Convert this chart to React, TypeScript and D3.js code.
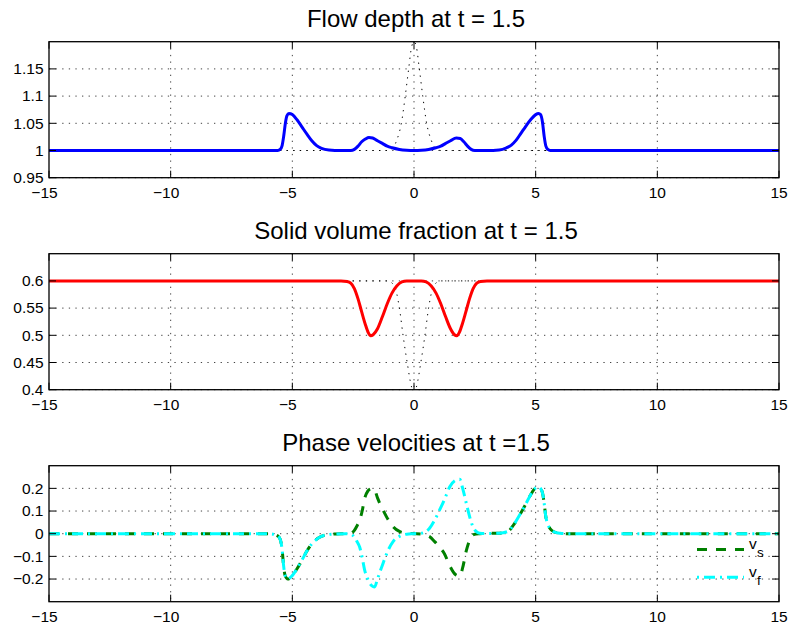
import React from 'react';
import * as d3 from 'd3';

// ---- shared axis settings ----
const X_DOMAIN: [number, number] = [-15, 15];
const X_TICKS = [-15, -10, -5, 0, 5, 10, 15];

// ---- flow depth h(x) at t = 1.5 ----
const depthX = [-15, -6, -5.6, -5.5, -5.42, -5.35, -5.28, -5.22, -5.14, -5.0, -4.8, -4.6, -4.4, -4.2, -4.0, -3.8, -3.5, -3.0,
  -2.6, -2.45, -2.3, -2.15, -2.0, -1.85, -1.7, -1.5, -1.3, -1.1, -0.9, -0.6, -0.3, 0,
  0.3, 0.6, 0.9, 1.1, 1.3, 1.5, 1.74, 1.9, 2.05, 2.2, 2.35, 2.5, 3.0,
  3.5, 3.8, 4.0, 4.2, 4.4, 4.6, 4.8, 5.0, 5.12, 5.2, 5.28, 5.35, 5.42, 5.5, 5.6, 6, 15];
const depthH = [1, 1, 1.0, 1.002, 1.009, 1.028, 1.052, 1.064, 1.068, 1.066, 1.056, 1.043, 1.03, 1.018, 1.009, 1.004, 1.001, 1.0,
  1.0, 1.002, 1.008, 1.016, 1.021, 1.024, 1.023, 1.018, 1.013, 1.008, 1.005, 1.002, 1.0005, 1.0,
  1.0005, 1.002, 1.005, 1.008, 1.013, 1.018, 1.023, 1.022, 1.016, 1.008, 1.002, 1.0, 1.0,
  1.001, 1.005, 1.01, 1.019, 1.032, 1.045, 1.057, 1.066, 1.068, 1.066, 1.052, 1.026, 1.008, 1.002, 1.0, 1, 1];

// initial flow depth (dotted)
const depthInitX = [-15, -1.1, -0.85, -0.7, -0.52, -0.36, -0.22, -0.1, 0, 0.1, 0.22, 0.36, 0.52, 0.7, 0.85, 1.1, 15];
const depthInitH = [1, 1.0, 1.006, 1.02, 1.05, 1.1, 1.15, 1.19, 1.2, 1.19, 1.15, 1.1, 1.05, 1.02, 1.006, 1.0, 1];

// ---- solid volume fraction phi(x) at t = 1.5 ----
const fracX = [-15, -3.0, -2.75, -2.6, -2.45, -2.3, -2.15, -2.0, -1.88, -1.78, -1.68, -1.5, -1.3, -1.1, -0.9, -0.7, -0.5, -0.3, 0,
  0.3, 0.5, 0.7, 0.9, 1.1, 1.3, 1.5, 1.66, 1.76, 1.86, 1.98, 2.13, 2.28, 2.43, 2.58, 2.73, 3.0, 15];
const fracPhi = [0.6, 0.6, 0.599, 0.596, 0.586, 0.567, 0.543, 0.52, 0.505, 0.499, 0.501, 0.512, 0.534, 0.558, 0.578, 0.591, 0.598, 0.6, 0.6,
  0.6, 0.598, 0.591, 0.578, 0.558, 0.534, 0.512, 0.501, 0.499, 0.505, 0.52, 0.543, 0.567, 0.586, 0.596, 0.599, 0.6, 0.6];

// initial volume fraction (dotted)
const fracInitX = [-15, -1.1, -0.82, -0.6, -0.45, -0.28, -0.1, 0, 0.1, 0.28, 0.45, 0.6, 0.82, 1.1, 15];
const fracInitPhi = [0.6, 0.6, 0.592, 0.55, 0.5, 0.45, 0.405, 0.395, 0.405, 0.45, 0.5, 0.55, 0.592, 0.6, 0.6];

// ---- phase velocities at t = 1.5 ----
const velX = [-15, -6, -5.8, -5.6, -5.5, -5.42, -5.36, -5.3, -5.18, -5.05, -4.84, -4.62, -4.42, -4.2, -3.88, -3.6, -3.2, -2.8,
  -2.6, -2.45, -2.35, -2.23, -2.13, -2.03, -1.9, -1.78, -1.69, -1.62, -1.5, -1.38, -1.27, -1.05, -0.86, -0.6, -0.3, 0,
  0.3, 0.64, 0.85, 1.05, 1.25, 1.47, 1.7, 1.88, 2.0, 2.15, 2.3, 2.42, 2.55, 2.7, 2.9,
  3.5, 3.86, 4.1, 4.34, 4.55, 4.75, 4.95, 5.1, 5.2, 5.3, 5.36, 5.41, 5.5, 5.58, 5.75, 6.0, 6.3, 15];
const velSolid = [0, 0, -0.002, -0.01, -0.025, -0.07, -0.14, -0.183, -0.2, -0.19, -0.16, -0.12, -0.08, -0.045, -0.016, -0.005, -0.001, 0,
  0.002, 0.015, 0.033, 0.06, 0.1, 0.155, 0.188, 0.198, 0.2, 0.195, 0.158, 0.128, 0.104, 0.06, 0.031, 0.01, 0.002, 0,
  -0.002, -0.013, -0.035, -0.06, -0.088, -0.142, -0.18, -0.187, -0.15, -0.075, -0.025, -0.006, -0.001, 0, 0.001,
  0.002, 0.01, 0.04, 0.082, 0.122, 0.163, 0.197, 0.207, 0.2, 0.17, 0.125, 0.08, 0.04, 0.024, 0.008, 0.002, 0, 0];
const velFluid = [0, 0, -0.002, -0.01, -0.025, -0.07, -0.14, -0.183, -0.2, -0.19, -0.16, -0.12, -0.08, -0.045, -0.016, -0.005, -0.001, 0,
  -0.002, -0.015, -0.033, -0.06, -0.105, -0.16, -0.2, -0.225, -0.233, -0.235, -0.2, -0.163, -0.13, -0.07, -0.035, -0.012, -0.002, 0,
  0.002, 0.024, 0.06, 0.104, 0.15, 0.207, 0.235, 0.24, 0.2, 0.134, 0.07, 0.031, 0.01, 0.002, 0.001,
  0.002, 0.01, 0.04, 0.082, 0.122, 0.163, 0.197, 0.207, 0.2, 0.17, 0.125, 0.08, 0.04, 0.024, 0.008, 0.002, 0, 0];

// ---- y ticks ----
const depthTicks = [0.95, 1, 1.05, 1.1, 1.15];
const fracTicks = [0.4, 0.45, 0.5, 0.55, 0.6];
const velTicks = [-0.2, -0.1, 0, 0.1, 0.2];

// ---- layout ----
const W = 788;
const HGT = 628;
const LEFT = 49;
const RIGHT = 779;
const PANEL_H = 136;
const FONT = '"Liberation Sans", Arial, Helvetica, sans-serif';
const TICK_FS = 15.5;
const TICK_LEN = 7;
const GRID_DASH = '1.3,5.3';

type Series = {
  xs: number[];
  ys: number[];
  color: string;
  width: number;
  dash?: string;
};

const fmt = (v: number) => {
  const s = String(+v.toFixed(4));
  return s.startsWith('-') ? '\u2212' + s.slice(1) : s;
};

function XLabel({ x, y, v }: { x: number; y: number; v: number }) {
  // digits are centred on the tick; the minus sign hangs to the left
  const digits = String(Math.abs(v));
  const w = digits.length * 0.556 * TICK_FS;
  return (
    <g>
      <text x={x} y={y} textAnchor="middle">{digits}</text>
      {v < 0 && <text x={x - w / 2} y={y} textAnchor="end">{'\u2212'}</text>}
    </g>
  );
}

function Panel({
  top, yDomain, yTicks, title, series, clipId, children,
}: {
  top: number;
  yDomain: [number, number];
  yTicks: number[];
  title: string;
  series: Series[];
  clipId: string;
  children?: React.ReactNode;
}) {
  const bottom = top + PANEL_H;
  const x = d3.scaleLinear().domain(X_DOMAIN).range([LEFT, RIGHT]);
  const y = d3.scaleLinear().domain(yDomain).range([bottom, top]);

  const pathFor = (s: Series) =>
    d3.line<number>()
      .x((_, i) => x(s.xs[i]))
      .y((d) => y(d))
      .curve(d3.curveMonotoneX)(s.ys) || '';

  return (
    <g fontFamily={FONT}>
      <text x={(LEFT + RIGHT) / 2 + 2} y={top - 14.5} textAnchor="middle" fontSize={24} fill="#000">
        {title}
      </text>
      <defs>
        <clipPath id={clipId}>
          <rect x={LEFT} y={top} width={RIGHT - LEFT} height={PANEL_H} />
        </clipPath>
      </defs>
      <rect x={LEFT} y={top} width={RIGHT - LEFT} height={PANEL_H} fill="#fff" />
      {/* grid */}
      <g stroke="#444" strokeWidth={1} strokeDasharray={GRID_DASH}>
        {X_TICKS.slice(1, -1).map((t) => (
          <line key={'gx' + t} x1={x(t)} x2={x(t)} y1={top} y2={bottom} />
        ))}
        {yTicks.map((t) => (
          <line key={'gy' + t} x1={LEFT} x2={RIGHT} y1={y(t)} y2={y(t)} />
        ))}
      </g>
      {/* data */}
      <g clipPath={`url(#${clipId})`} fill="none">
        {series.map((s, i) => (
          <path
            key={i}
            d={pathFor(s)}
            stroke={s.color}
            strokeWidth={s.width}
            strokeDasharray={s.dash}
            strokeLinejoin="round"
          />
        ))}
      </g>
      {children}
      {/* box and ticks */}
      <rect x={LEFT} y={top} width={RIGHT - LEFT} height={PANEL_H} fill="none" stroke="#000" strokeWidth={1.3} />
      <g stroke="#000" strokeWidth={1}>
        {X_TICKS.map((t) => (
          <g key={'tx' + t}>
            <line x1={x(t)} x2={x(t)} y1={bottom} y2={bottom - TICK_LEN} />
            <line x1={x(t)} x2={x(t)} y1={top} y2={top + TICK_LEN} />
          </g>
        ))}
        {yTicks.map((t) => (
          <g key={'ty' + t}>
            <line x1={LEFT} x2={LEFT + TICK_LEN} y1={y(t)} y2={y(t)} />
            <line x1={RIGHT} x2={RIGHT - TICK_LEN} y1={y(t)} y2={y(t)} />
          </g>
        ))}
      </g>
      <g fontSize={TICK_FS} fill="#000">
        {X_TICKS.map((t) => (
          <XLabel key={'lx' + t} x={x(t)} y={bottom + 20.5} v={t} />
        ))}
        {yTicks.map((t) => (
          <text key={'ly' + t} x={43.5} y={y(t) + 5.2} textAnchor="end">{fmt(t)}</text>
        ))}
      </g>
    </g>
  );
}

export default function App() {
  const tops = [41.7, 253.7, 465.7];
  return (
    <svg
      width={W}
      height={HGT}
      viewBox={`0 0 ${W} ${HGT}`}
      style={{ position: 'absolute', left: 0, top: 0, background: '#fff' }}
    >
      <rect width={W} height={HGT} fill="#fff" />
      <Panel
        top={tops[0]}
        yDomain={[0.95, 1.2]}
        yTicks={depthTicks}
        title="Flow depth at t = 1.5"
        clipId="clip-depth"
        series={[
          { xs: depthInitX, ys: depthInitH, color: '#000', width: 1, dash: GRID_DASH },
          { xs: depthX, ys: depthH, color: '#0000ff', width: 3 },
        ]}
      />
      <Panel
        top={tops[1]}
        yDomain={[0.4, 0.65]}
        yTicks={fracTicks}
        title="Solid volume fraction at t = 1.5"
        clipId="clip-frac"
        series={[
          { xs: fracInitX, ys: fracInitPhi, color: '#000', width: 1, dash: GRID_DASH },
          { xs: fracX, ys: fracPhi, color: '#ff0000', width: 3 },
        ]}
      />
      <Panel
        top={tops[2]}
        yDomain={[-0.3, 0.3]}
        yTicks={velTicks}
        title="Phase velocities at t =1.5"
        clipId="clip-vel"
        series={[
          { xs: velX, ys: velSolid, color: '#008000', width: 3, dash: '10,9' },
          { xs: velX, ys: velFluid, color: '#00ffff', width: 3, dash: '11,5,2,5' },
        ]}
      >
        <g fontFamily={FONT} fill="#000">
          <line x1={697} x2={744} y1={549.5} y2={549.5} stroke="#008000" strokeWidth={3} strokeDasharray="10,9" />
          <text x={749} y={548.5} fontSize={15.5}>v</text>
          <text x={757} y={557.3} fontSize={13.5}>s</text>
          <line x1={697} x2={744} y1={577.3} y2={577.3} stroke="#00ffff" strokeWidth={3} strokeDasharray="2,5,11,5" />
          <text x={749} y={576.7} fontSize={15.5}>v</text>
          <text x={757} y={585.3} fontSize={13.5}>f</text>
        </g>
      </Panel>
    </svg>
  );
}
